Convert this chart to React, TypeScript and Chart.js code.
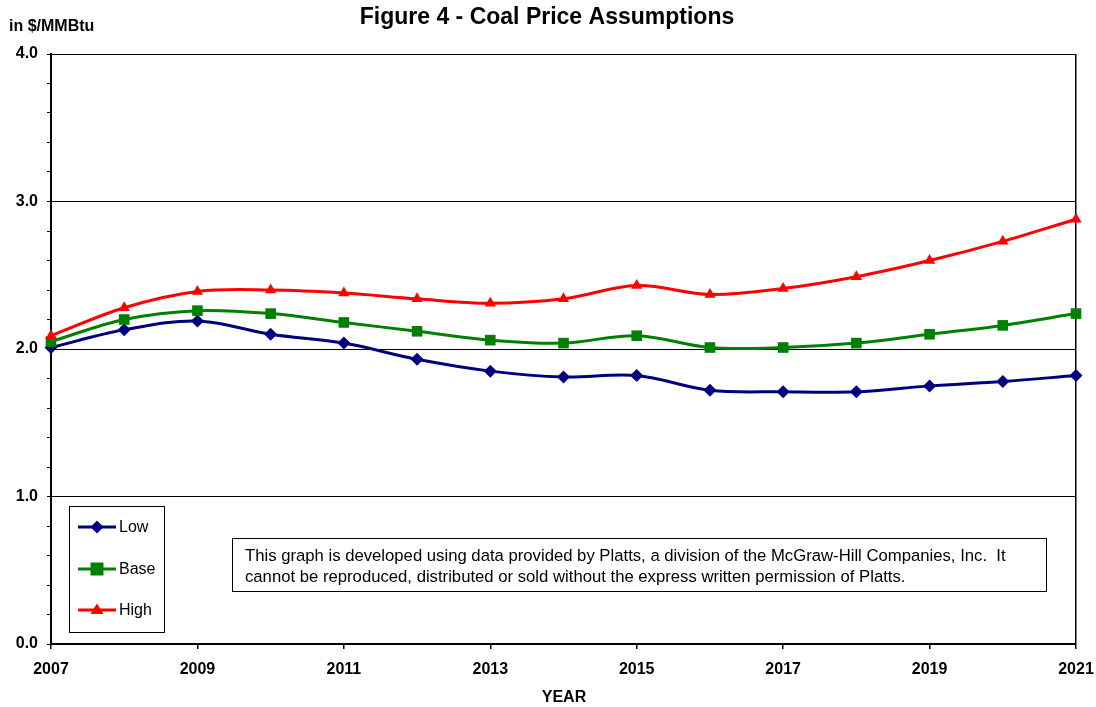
import React, { useEffect, useRef } from "react";
import { Chart, registerables } from "chart.js";

Chart.register(...registerables);

const years = [2007, 2008, 2009, 2010, 2011, 2012, 2013, 2014, 2015, 2016, 2017, 2018, 2019, 2020, 2021];
const lowValues = [2.01, 2.13, 2.19, 2.10, 2.04, 1.93, 1.85, 1.81, 1.82, 1.72, 1.71, 1.71, 1.75, 1.78, 1.82];
const baseValues = [2.05, 2.20, 2.26, 2.24, 2.18, 2.12, 2.06, 2.04, 2.09, 2.01, 2.01, 2.04, 2.10, 2.16, 2.24];
const highValues = [2.09, 2.28, 2.39, 2.40, 2.38, 2.34, 2.31, 2.34, 2.43, 2.37, 2.41, 2.49, 2.60, 2.73, 2.88];
const seriesNames = ["Low", "Base", "High"];
const seriesColors = ["#000080", "#008000", "#FF0000"];
const seriesMarkers = ["rectRot", "rect", "triangle"];
const titleText = "Figure 4 - Coal Price Assumptions";
const yAxisTitle = "in $/MMBtu";
const xAxisTitle = "YEAR";
const noteLines = [
  "This graph is developed using data provided by Platts, a division of the McGraw-Hill Companies, Inc.  It",
  "cannot be reproduced, distributed or sold without the express written permission of Platts.",
];

const FONT = "Arial, 'Liberation Sans', sans-serif";

function drawMarker(ctx: CanvasRenderingContext2D, kind: string, x: number, y: number, color: string) {
  ctx.fillStyle = color;
  ctx.beginPath();
  const r = 6.5;
  if (kind === "rectRot") {
    ctx.moveTo(x, y - r);
    ctx.lineTo(x + r, y);
    ctx.lineTo(x, y + r);
    ctx.lineTo(x - r, y);
  } else if (kind === "rect") {
    ctx.rect(x - r, y - r, 2 * r, 2 * r);
  } else {
    ctx.moveTo(x, y - r);
    ctx.lineTo(x + r, y + r * 0.6);
    ctx.lineTo(x - r, y + r * 0.6);
  }
  ctx.closePath();
  ctx.fill();
}

const overlayPlugin = {
  id: "overlay",
  afterDraw(chart: any) {
    const ctx: CanvasRenderingContext2D = chart.ctx;
    ctx.save();
    ctx.fillStyle = "#000";
    ctx.textBaseline = "middle";
    ctx.textAlign = "center";
    ctx.font = `bold 23px ${FONT}`;
    ctx.fillText(titleText, 547, 18);
    ctx.textAlign = "left";
    ctx.font = `bold 16px ${FONT}`;
    ctx.fillText(yAxisTitle, 9, 27);
    ctx.textAlign = "center";
    ctx.fillText(xAxisTitle, 564, 698);

    // Legend box
    ctx.fillStyle = "#fff";
    ctx.fillRect(69, 506, 95, 126);
    ctx.strokeStyle = "#000";
    ctx.lineWidth = 1;
    ctx.strokeRect(69.5, 506.5, 95, 126);
    const rows = [527, 569, 610];
    seriesNames.forEach((name, i) => {
      const y = rows[i];
      ctx.strokeStyle = seriesColors[i];
      ctx.lineWidth = 3;
      ctx.beginPath();
      ctx.moveTo(78, y);
      ctx.lineTo(116, y);
      ctx.stroke();
      drawMarker(ctx, seriesMarkers[i], 97, y, seriesColors[i]);
      ctx.fillStyle = "#000";
      ctx.textAlign = "left";
      ctx.font = `16px ${FONT}`;
      ctx.fillText(name, 119, y + 1);
    });

    // Note box
    ctx.fillStyle = "#fff";
    ctx.fillRect(232, 538, 814, 53);
    ctx.strokeStyle = "#000";
    ctx.lineWidth = 1;
    ctx.strokeRect(232.5, 538.5, 814, 53);
    ctx.fillStyle = "#000";
    ctx.font = `16.7px ${FONT}`;
    ctx.textAlign = "left";
    ctx.fillText(noteLines[0], 245, 556);
    ctx.fillText(noteLines[1], 245, 577);
    ctx.restore();
  },
};

export default function App() {
  const ref = useRef<HTMLCanvasElement | null>(null);
  useEffect(() => {
    if (!ref.current) return;
    const mk = (label: string, data: number[], i: number, size: number) => ({
      label,
      data: years.map((y, k) => ({ x: y, y: data[k] })),
      borderColor: seriesColors[i],
      backgroundColor: seriesColors[i],
      pointStyle: seriesMarkers[i] as any,
      pointRadius: size,
      pointBorderWidth: 0,
      borderWidth: 3,
      tension: 0.35,
      clip: false as any,
    });
    const chart = new Chart(ref.current, {
      type: "line",
      data: {
        datasets: [
          mk(seriesNames[2], highValues, 2, 6.5),
          mk(seriesNames[1], baseValues, 1, 7.5),
          mk(seriesNames[0], lowValues, 0, 6.5),
        ],
      },
      options: {
        animation: false,
        responsive: false,
        layout: { padding: { top: 54, right: 20, left: 0, bottom: 0 } },
        plugins: { legend: { display: false }, tooltip: { enabled: false }, title: { display: false } },
        scales: {
          x: {
            type: "linear",
            min: 2007,
            max: 2021,
            afterFit: (s: any) => {
              s.height = 63;
              s.paddingLeft = 0;
              s.paddingRight = 0;
            },
            ticks: {
              stepSize: 2,
              color: "#000",
              font: { family: FONT, size: 16, weight: "bold" },
              padding: 11,
              maxRotation: 0,
              callback: (v: any) => String(v),
            },
            grid: {
              color: (c: any) => (c.tick && c.tick.value === 2021 ? "#000" : "transparent"),
              tickColor: "#000",
              tickLength: 5,
              lineWidth: 1.5,
            },
            border: { color: "#000", width: 2 },
          },
          y: {
            min: 0,
            max: 4,
            afterFit: (s: any) => {
              s.width = 51;
              s.paddingTop = 0;
              s.paddingBottom = 0;
            },
            ticks: {
              stepSize: 0.2,
              color: "#000",
              font: { family: FONT, size: 16, weight: "bold" },
              padding: 9,
              callback: (v: any) => {
                const n = Number(v);
                return Math.abs(n - Math.round(n)) < 1e-6 ? n.toFixed(1) : "";
              },
            },
            grid: {
              color: (c: any) => {
                const v = c.tick ? c.tick.value : 0;
                return Math.abs(v - Math.round(v)) < 1e-6 ? "#000" : "transparent";
              },
              tickColor: "#000",
              tickLength: 4,
              lineWidth: 1,
            },
            border: { color: "#000", width: 2 },
          },
        },
      },
      plugins: [overlayPlugin],
    });
    return () => chart.destroy();
  }, []);
  return (
    <div style={{ position: "fixed", left: 0, top: 0, width: 1096, height: 707, background: "#fff" }}>
      <canvas ref={ref} width={1096} height={707} style={{ display: "block" }} />
    </div>
  );
}
